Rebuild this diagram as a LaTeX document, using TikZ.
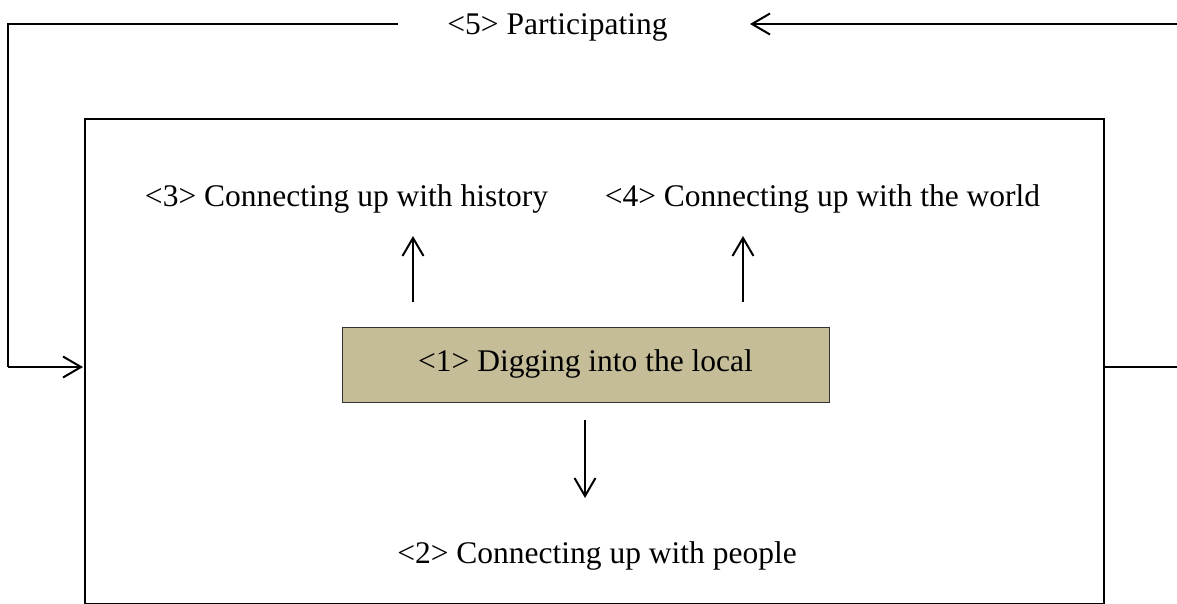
\documentclass[tikz,border=0pt]{standalone}
\usepackage{fontspec}
\setmainfont{Liberation Serif}
\usetikzlibrary{arrows.meta}
\definecolor{tanfill}{HTML}{C4BD97}
\begin{document}
\begin{tikzpicture}[x=1pt,y=-1pt,
  line/.style={line width=2pt},
  arr/.style={line width=2pt,-{Straight Barb[length=18pt,width=21pt,line width=2pt]}},
  lbl/.style={inner sep=0pt,anchor=base,font=\fontsize{31.5}{36}\selectfont},
  mainbox/.style={draw=black!80,line width=1pt,fill=tanfill,minimum width=487pt,minimum height=75pt,inner sep=0pt,font=\fontsize{31.5}{36}\selectfont}]
\useasboundingbox (0,0) rectangle (1177,604);
% outer frame
\node[draw,line width=2pt,minimum width=1019pt,minimum height=485pt,inner sep=0pt,anchor=north west] (frame) at (84,118) {};
% central box
\node[mainbox] (n1) at (585.5,364.5) {\strut<1> Digging into the local};
% labels
\node[lbl] (n3) at (346.5,206) {<3> Connecting up with history};
\node[lbl] (n4) at (822.5,206) {<4> Connecting up with the world};
\node[lbl] (n2) at (597,563) {<2> Connecting up with people};
\node[lbl] (n5) at (557.5,35) {<5> Participating};
% coordinates for connector ends
\coordinate (u3a) at (413,302);
\coordinate (u3b) at (413,236);
\coordinate (u4a) at (743,302);
\coordinate (u4b) at (743,236);
\coordinate (d2a) at (585,420);
\coordinate (d2b) at (585,498);
\coordinate (rt) at (1177,367);
\coordinate (rtop) at (1177,24);
\coordinate (tipR) at (750,24);
\coordinate (endL) at (398,24);
\coordinate (lc) at (8,24);
\coordinate (lb) at (8,367);
\coordinate (fin) at (83,367);
% inner arrows
\draw[arr] (u3a) -- (u3b);
\draw[arr] (u4a) -- (u4b);
\draw[arr] (d2a) -- (d2b);
% feedback loop
\draw[line] (frame.east |- rt) -- (rt);
\draw[arr] (rtop) -- (tipR);
\draw[line] (endL) -- (lc) -- (lb);
\draw[arr] (lb) -- (fin);
\end{tikzpicture}
\end{document}
